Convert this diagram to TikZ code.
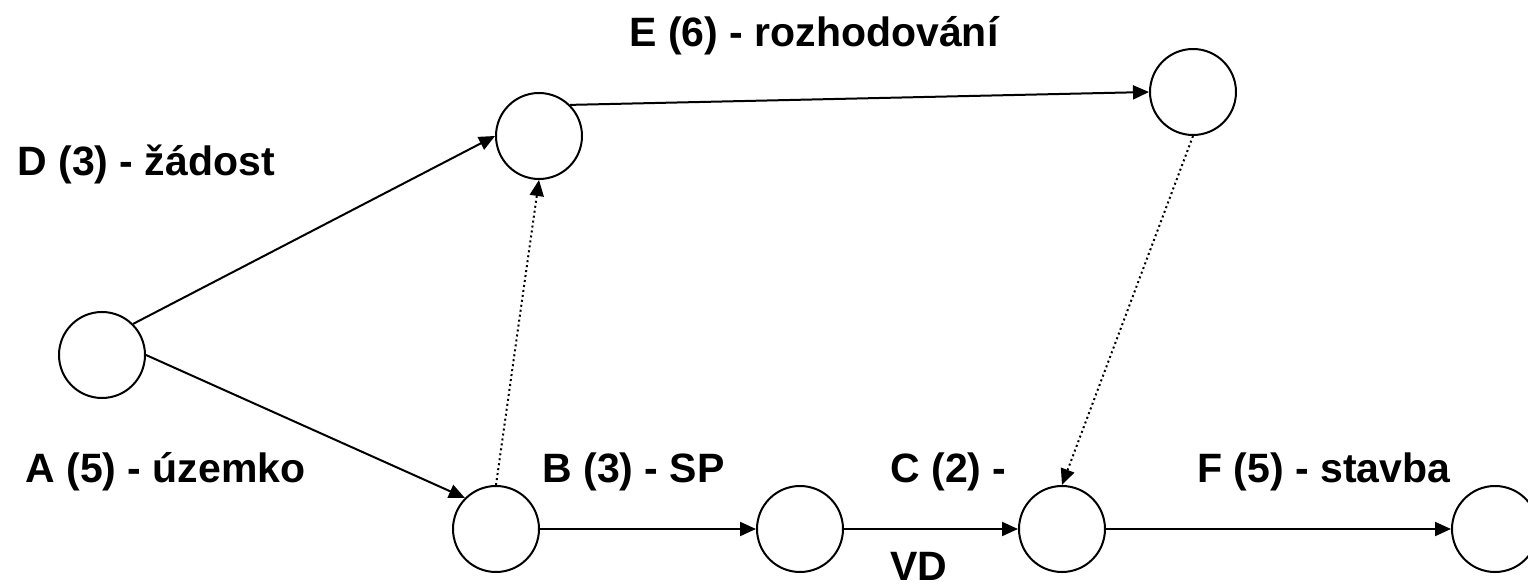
\documentclass[tikz,border=0pt]{standalone}
\usepackage{fontspec}
\setmainfont{Liberation Sans}
\usetikzlibrary{arrows.meta}

\begin{document}
\begin{tikzpicture}[x=0.5pt,y=-0.5pt,
	event/.style={circle,draw,line width=1pt,minimum size=43pt,inner sep=0pt},
	activity/.style={line width=1pt,-{Triangle[length=8pt,width=7pt]}},
	dummy/.style={activity,line width=1pt,dash pattern=on 1pt off 1.5pt},
	label/.style={anchor=base west,inner sep=0pt,font=\fontsize{20.5}{24}\selectfont\bfseries}]
	\useasboundingbox (0,0) rectangle (1528,588);
	% Events
	\node[event] (start) at (102,355) {};
	\node[event] (zadost) at (539,136) {};
	\node[event] (rozhod) at (1193,92) {};
	\node[event] (uzemko) at (496,529) {};
	\node[event] (sp) at (800,529) {};
	\node[event] (vd) at (1062,529) {};
	\node[event] (stavba) at (1495,529) {};
	% Activities
	\draw[activity] (start.45) -- (zadost.west);
	\draw[activity] (start.east) -- (uzemko.135);
	\draw[activity] (zadost.45) -- (rozhod.west);
	\draw[activity] (uzemko.east) -- (sp.west);
	\draw[activity] (sp.east) -- (vd.west);
	\draw[activity] (vd.east) -- (stavba.west);
	% Dummy activities
	\draw[dummy] (uzemko.north) -- (zadost.south);
	\draw[dummy] (rozhod.south) -- (vd.north);
	% Labels
	\node[label] (ld) at (17,176) {D (3) - žádost};
	\node[label] (le) at (629,47) {E (6) - rozhodování};
	\node[label] (la) at (25,483) {A (5) - územko};
	\node[label] (lb) at (542,483) {B (3) - SP};
	\node[label] (lc) at (890,483) {C (2) -};
	\node[label] (lvd) at (890,581) {VD};
	\node[label] (lf) at (1197,483) {F (5) - stavba};
\end{tikzpicture}
\end{document}
